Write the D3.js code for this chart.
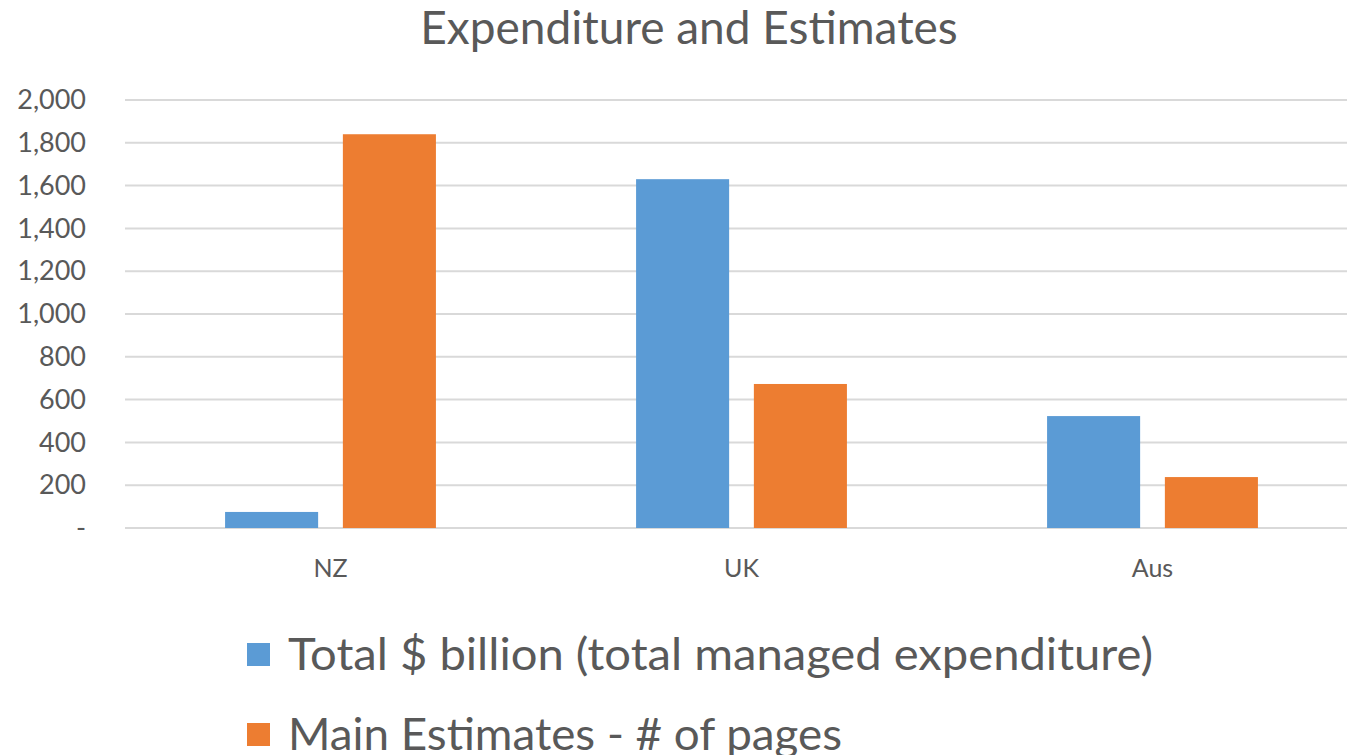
<!DOCTYPE html>
<html>
<head>
<meta charset="utf-8">
<script src="https://cdn.jsdelivr.net/npm/d3@7"></script>
<style>
  body { margin: 0; background: #fff; }
  text { font-family: Lato, "Open Sans", sans-serif; fill: #595959; }
</style>
</head>
<body>
<div class="vis"></div>
<script>
const categories = ['NZ', 'UK', 'Aus']
const seriesNames = ['Total $ billion (total managed expenditure)', 'Main Estimates - # of pages']
const totalBillion = [75, 1630, 523]
const estimatePages = [1840, 673, 238]
const yTicks = [0, 200, 400, 600, 800, 1000, 1200, 1400, 1600, 1800, 2000]
const colors = ['#5b9bd5', '#ed7d31']

const w = 1347
const h = 755
const legendWidths = [865, 554]  // 图例文字宽度

const svg = d3.select('.vis')
    .append('svg')
    .attr('width', w)
    .attr('height', h)

// 数据表
const table = categories.map((c, i) => ({ cat: c, values: [totalBillion[i], estimatePages[i]] }))

const x0 = d3.scaleBand()
    .domain(categories)
    .range([125, 1358])
    .paddingInner(0.487)
    .paddingOuter(0.2435)

const x1 = d3.scaleBand()
    .domain([0, 1])
    .range([0, x0.bandwidth()])
    .paddingInner(0.21)

const y = d3.scaleLinear()
    .domain([0, 2000])
    .range([528, 100])

// 网格线
svg.append('g')
    .selectAll('line')
    .data(yTicks)
    .enter().append('line')
    .attr('x1', 125)
    .attr('x2', w)
    .attr('y1', d => y(d))
    .attr('y2', d => y(d))
    .attr('stroke', '#d9d9d9')
    .attr('stroke-width', 2)

// y轴标签
const yAxis = d3.axisLeft(y)
    .tickValues(yTicks)
    .tickSize(0)
    .tickPadding(0)
    .tickFormat(d => d === 0 ? '-' : d3.format(',')(d))

svg.append('g')
    .attr('class', 'y-axis')
    .attr('transform', 'translate(86,0)')
    .call(yAxis)
    .call(g => g.select('.domain').remove())
    .selectAll('text')
    .attr('font-size', 27)
    .style('font-family', 'Lato, sans-serif')
    .attr('fill', '#595959')

// 柱子
const groups = svg.append('g')
    .selectAll('g')
    .data(table)
    .enter().append('g')
    .attr('transform', d => 'translate(' + x0(d.cat) + ',0)')

groups.selectAll('rect')
    .data(d => d.values)
    .enter().append('rect')
    .attr('x', (d, i) => x1(i))
    .attr('width', x1.bandwidth())
    .attr('y', d => y(d))
    .attr('height', d => y(0) - y(d))
    .attr('fill', (d, i) => colors[i])

// x轴标签
const xAxis = d3.axisBottom(x0).tickSize(0).tickPadding(0)
svg.append('g')
    .attr('class', 'x-axis')
    .attr('transform', 'translate(0,559)')
    .call(xAxis)
    .call(g => g.select('.domain').remove())
    .selectAll('text')
    .attr('font-size', 25)
    .style('font-family', 'Lato, sans-serif')
    .attr('fill', '#595959')

// 标题
svg.append('text')
    .attr('x', 689)
    .attr('y', 44)
    .attr('text-anchor', 'middle')
    .attr('font-size', 46)
    .text('Expenditure and Estimates')

// 图例
const legend = svg.append('g')
    .selectAll('g')
    .data(seriesNames)
    .enter().append('g')
    .attr('transform', (d, i) => 'translate(247,' + (643 + i * 80) + ')')

legend.append('rect')
    .attr('width', 23)
    .attr('height', 23)
    .attr('fill', (d, i) => colors[i])

legend.append('text')
    .attr('x', 41)
    .attr('y', 27)
    .attr('font-size', 44)
    .attr('textLength', (d, i) => legendWidths[i])
    .attr('lengthAdjust', 'spacingAndGlyphs')
    .text(d => d)
</script>
</body>
</html>
